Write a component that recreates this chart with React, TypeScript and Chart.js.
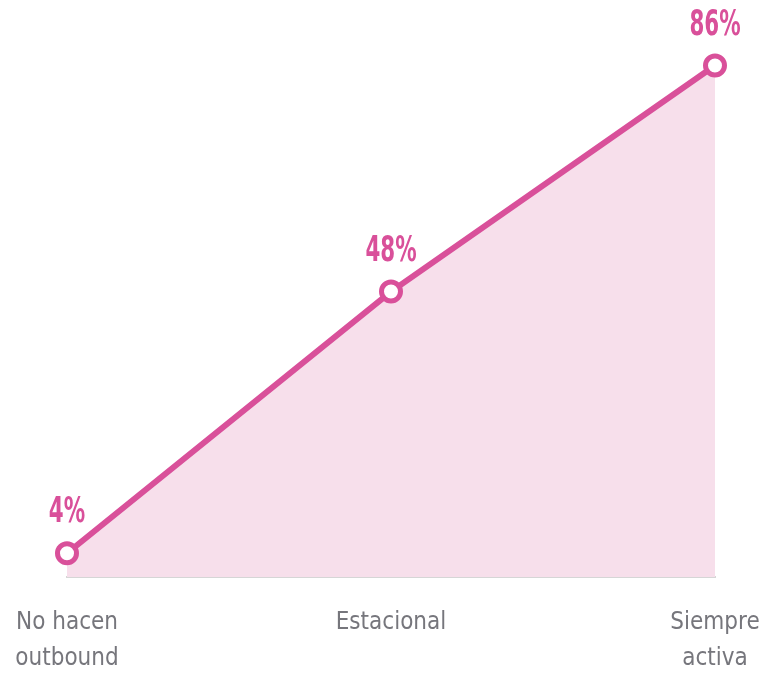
import React, { useEffect, useRef } from "react";
import { Chart, registerables } from "chart.js";

Chart.register(...registerables);

const categories: (string | string[])[] = [["No hacen", "outbound"], "Estacional", ["Siempre", "activa"]];
const values: number[] = [4, 48, 86];
const valueLabels: string[] = ["4%", "48%", "86%"];

const PINK = "#d9509a";
const FILL = "#f7dfeb";
const GRAY = "#76767c";
const NARROW = '"DejaVu Sans Condensed", "Liberation Sans Narrow", sans-serif';

const valueLabelPlugin = {
  id: "valueLabels",
  afterDatasetsDraw(chart: any) {
    const { ctx } = chart;
    const meta = chart.getDatasetMeta(0);
    meta.data.forEach((pt: any, i: number) => {
      ctx.save();
      ctx.translate(pt.x, pt.y - 40);
      ctx.scale(0.68, 1);
      ctx.font = `bold 35px ${NARROW}`;
      ctx.fillStyle = PINK;
      ctx.textAlign = "center";
      ctx.textBaseline = "middle";
      ctx.fillText(valueLabels[i], 0, 0);
      ctx.restore();
    });
  },
};

export default function App() {
  const ref = useRef<HTMLCanvasElement | null>(null);
  useEffect(() => {
    if (!ref.current) return;
    const chart = new Chart(ref.current, {
      type: "line",
      data: {
        labels: categories,
        datasets: [
          {
            data: values,
            borderColor: PINK,
            borderWidth: 6,
            backgroundColor: FILL,
            fill: "origin",
            tension: 0,
            pointRadius: 9.5,
            pointBorderWidth: 5,
            pointBackgroundColor: "#ffffff",
            pointBorderColor: PINK,
            clip: false as any,
          },
        ],
      },
      options: {
        responsive: false,
        animation: false,
        layout: { padding: { left: 67, right: 65, top: 18, bottom: 15 } },
        plugins: { legend: { display: false }, tooltip: { enabled: false } },
        scales: {
          x: {
            offset: false,
            grid: { display: false },
            border: { display: true, color: "#d6d6d6", width: 2 },
            afterFit: (s: any) => {
              s.paddingLeft = 0;
              s.paddingRight = 0;
            },
            ticks: {
              color: GRAY,
              padding: 20,
              maxRotation: 0,
              font: { family: NARROW, size: 24, lineHeight: 1.5 },
            },
          },
          y: {
            display: false,
            min: 0,
            max: 94,
          },
        },
      },
      plugins: [valueLabelPlugin],
    });
    return () => chart.destroy();
  }, []);
  return (
    <div style={{ position: "fixed", top: 0, left: 0, width: 780, height: 674, overflow: "hidden", background: "#fff" }}>
      <canvas ref={ref} width={780} height={712} style={{ display: "block" }} />
    </div>
  );
}
